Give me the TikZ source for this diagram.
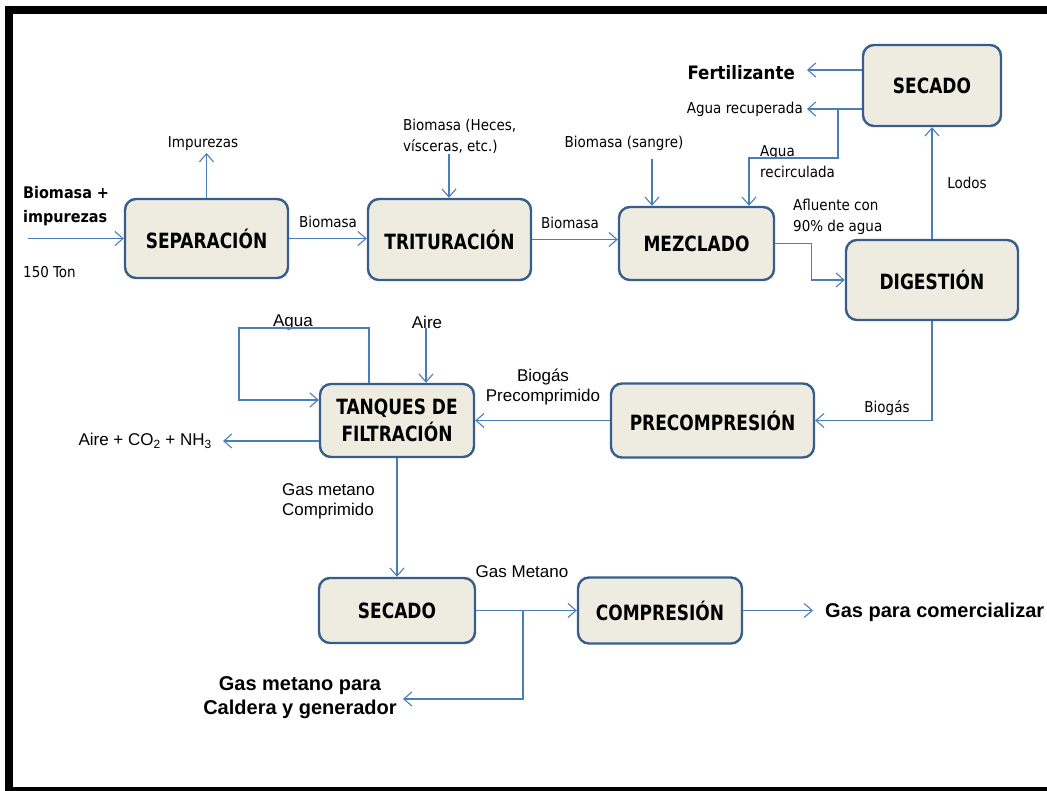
\documentclass[tikz,border=0pt]{standalone}
\usepackage{fontspec}
\setmainfont{Liberation Sans}
\newfontfamily\tahoma{DejaVu Sans Condensed}
\newfontfamily\tahomanarrow[FakeStretch=0.9]{DejaVu Sans Condensed}
\usetikzlibrary{arrows.meta}
\definecolor{boxline}{HTML}{385D8A}
\definecolor{boxfill}{HTML}{EEECE1}
\definecolor{flowline}{HTML}{4A7EBB}

\begin{document}
\begin{tikzpicture}[x=1pt, y=-1pt,
  proc/.style={draw=boxline, fill=boxfill, line width=2.4pt, rounded corners=11pt,
    align=center, inner sep=0pt, font=\tahomanarrow\bfseries\fontsize{21}{27}\selectfont},
  flow/.style={draw=flowline, line width=1.1pt, -{Straight Barb[length=8pt, width=14pt]}},
  lbl/.style={inner sep=0pt, font=\tahoma\fontsize{15}{21}\selectfont},
  albl/.style={inner sep=0pt, font=\fontsize{17}{20}\selectfont},
  blbl/.style={inner sep=0pt, font=\bfseries\fontsize{20}{24}\selectfont}]
  \useasboundingbox (0,0) rectangle (1047,791);
  \fill (5,6) rectangle (1047,14);
  \fill (5,6) rectangle (13,791);
  \fill (5,787) rectangle (1047,791);

  % process boxes
  \node[proc, minimum width=163pt, minimum height=79pt] (sep) at (206.5,238.5) {SEPARACIÓN};
  \node[proc, minimum width=163pt, minimum height=81pt] (trit) at (449.5,239.5) {TRITURACIÓN};
  \node[proc, minimum width=155pt, minimum height=73pt] (mezc) at (696.5,243.5) {MEZCLADO};
  \node[proc, minimum width=138pt, minimum height=81pt] (secA) at (932,85.5) {SECADO};
  \node[proc, minimum width=172pt, minimum height=80pt] (dige) at (932,280) {DIGESTIÓN};
  \node[proc, minimum width=154pt, minimum height=73pt] (tanq) at (397,420.5) {TANQUES DE\\FILTRACIÓN};
  \node[proc, minimum width=203pt, minimum height=74pt] (prec) at (712.5,420.5) {PRECOMPRESIÓN};
  \node[proc, minimum width=156pt, minimum height=65pt] (secB) at (397,610.5) {SECADO};
  \node[proc, minimum width=164pt, minimum height=66pt] (comp) at (660,610.5) {COMPRESIÓN};

  % labels
  \node[lbl, font=\tahoma\bfseries\fontsize{16}{24}\selectfont, align=left, anchor=west] (bio) at (23,206) {Biomasa +\\impurezas};
  \node[lbl, anchor=west] (ton) at (23,272) {150 Ton};
  \node[lbl] (imp) at (203,144) {Impurezas};
  \node[lbl] (bm1) at (328,222) {Biomasa};
  \node[lbl] (bm2) at (570,223) {Biomasa};
  \node[lbl, align=left, anchor=west] (hec) at (403,136.5) {Biomasa (Heces,\\vísceras, etc.)};
  \node[lbl] (sang) at (624,143) {Biomasa (sangre)};
  \node[lbl, align=left, anchor=west] (recir) at (760,161.5) {Agua\\recirculada};
  \node[lbl, align=left, anchor=west] (aflu) at (793,216.5) {Afluente con\\90\% de agua};
  \node[lbl] (lodos) at (967,183) {Lodos};
  \node[lbl, font=\tahoma\bfseries\fontsize{18.5}{23}\selectfont, anchor=east] (fert) at (795,73) {Fertilizante};
  \node[lbl, anchor=east] (arec) at (803,109) {Agua recuperada};
  \node[lbl] (biog) at (887,408) {Biogás};
  \node[albl, align=center] (bpre) at (543,387) {Biogás\\Precomprimido};
  \node[albl] (agua) at (293,322) {Agua};
  \node[albl] (aire) at (427,322) {Aire};
  \node[albl, anchor=east] (emis) at (212,441) {Aire + CO\textsubscript{2} + NH\textsubscript{3}};
  \node[albl, align=left, anchor=west] (gmc) at (282,501) {Gas metano\\Comprimido};
  \node[albl] (gmet) at (522,572) {Gas Metano};
  \node[blbl, align=center] (cald) at (300,698) {Gas metano para\\Caldera y generador};
  \node[blbl, anchor=west] (venta) at (825,612) {Gas para comercializar};

  % free ends
  \coordinate (src) at (28,238.5);
  \coordinate (impt) at (206.5,153);
  \coordinate (hect) at (449,154);
  \coordinate (sangt) at (652,159);
  \coordinate (fertt) at (807,70);
  \coordinate (arect) at (807,109);
  \coordinate (rsplit) at (838,109);
  \coordinate (rturn) at (749,158);
  \coordinate (airet) at (426,328);
  \coordinate (aguaup) at (369,328);
  \coordinate (agualeft) at (239,400);
  \coordinate (emist) at (223,441);
  \coordinate (gsplit) at (523,610.5);
  \coordinate (caldt) at (403,699);
  \coordinate (ventt) at (813,610.5);

  % flows
  \draw[flow] (src) -- (sep.west);
  \draw[flow] (sep.north) -- (impt);
  \draw[flow] (sep.east) -- (sep.east -| trit.west);
  \draw[flow] (hect) -- (hect |- trit.north);
  \draw[flow] (trit.east) -- (trit.east -| mezc.west);
  \draw[flow] (sangt) -- (sangt |- mezc.north);
  \draw[flow] (mezc.east) -- ++(36,0) |- (dige.west);
  \draw[flow] (dige.north) -- (secA.south);
  \draw[flow] (fertt -| secA.west) -- (fertt);
  \draw[flow] (arect -| secA.west) -- (arect);
  \draw[flow] (rsplit) |- (rturn) -- (rturn |- mezc.north);
  \draw[flow] (dige.south) |- (prec.east);
  \draw[flow] (prec.west) -- (tanq.east);
  \draw[flow] (airet) -- (airet |- tanq.north);
  \draw[flow] (aguaup |- tanq.north) -- (aguaup) -| (agualeft) -- (agualeft -| tanq.west);
  \draw[flow] (emist -| tanq.west) -- (emist);
  \draw[flow] (tanq.south) -- (secB.north);
  \draw[flow] (secB.east) -- (comp.west);
  \draw[flow] (gsplit) |- (caldt);
  \draw[flow] (comp.east) -- (ventt);
\end{tikzpicture}
\end{document}
